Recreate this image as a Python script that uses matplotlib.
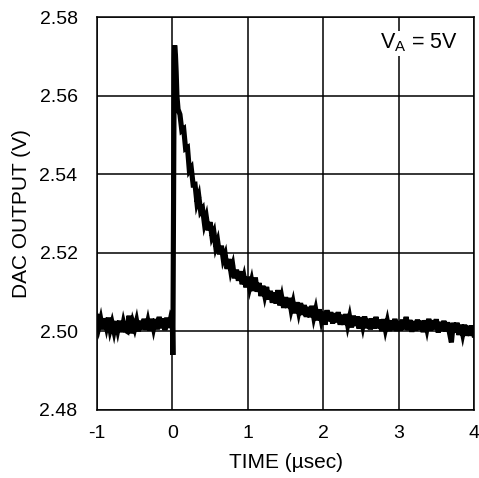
import matplotlib
matplotlib.use("Agg")
import matplotlib.pyplot as plt
import numpy as np

plt.rcParams["font.family"] = ["Liberation Sans", "DejaVu Sans"]
plt.rcParams["mathtext.default"] = "regular"

# Pre-step baseline, sampled every 25 ns from -1 us
dac_pre = [
    2.5038, 2.5011, 2.5031, 2.5005, 2.5033, 2.5011, 2.5035, 2.5004, 2.5022, 2.5000,
    2.5026, 2.5003, 2.5027, 2.4998, 2.5023, 2.5003, 2.5000, 2.5040, 2.4995, 2.5023,
    2.5007, 2.5027, 2.5000, 2.5027, 2.5005, 2.5032, 2.5004, 2.5026, 2.5002, 2.5032,
    2.5008, 2.5031, 2.5005, 2.5037, 2.5008, 2.5033, 2.5003, 2.5035, 2.5009, 2.5032,
]

# Code step edge (glitch and peak)
time_edge = [0.000, 0.006, 0.012, 0.018, 0.024, 0.030, 0.040, 0.050, 0.060, 0.075]
dac_edge = [2.5018, 2.4940, 2.5200, 2.5500, 2.5690, 2.5728, 2.5705, 2.5660, 2.5600, 2.5565]

# Settling tail, sampled every 25 ns from 0.1 us to 4 us
dac_post = [
    2.5552, 2.5511, 2.5515, 2.5465, 2.5468, 2.5409, 2.5416, 2.5373, 2.5374, 2.5328,
    2.5344, 2.5305, 2.5312, 2.5274, 2.5291, 2.5257, 2.5278, 2.5241, 2.5253, 2.5215,
    2.5230, 2.5196, 2.5218, 2.5183, 2.5196, 2.5159, 2.5184, 2.5153, 2.5169, 2.5135,
    2.5157, 2.5129, 2.5153, 2.5120, 2.5139, 2.5112, 2.5139, 2.5111, 2.5130, 2.5103,
    2.5137, 2.5101, 2.5123, 2.5090, 2.5116, 2.5091, 2.5113, 2.5081, 2.5103, 2.5073,
    2.5099, 2.5071, 2.5105, 2.5066, 2.5087, 2.5060, 2.5087, 2.5060, 2.5085, 2.5055,
    2.5074, 2.5046, 2.5074, 2.5049, 2.5072, 2.5042, 2.5067, 2.5037, 2.5062, 2.5036,
    2.5065, 2.5036, 2.5056, 2.5028, 2.5056, 2.5029, 2.5050, 2.5017, 2.5054, 2.5026,
    2.5049, 2.5020, 2.5046, 2.5023, 2.5049, 2.5017, 2.5042, 2.5017, 2.5044, 2.5016,
    2.5037, 2.5010, 2.5040, 2.5014, 2.5038, 2.5007, 2.5036, 2.5013, 2.5038, 2.5008,
    2.5032, 2.5005, 2.5033, 2.5007, 2.5037, 2.5008, 2.5030, 2.5001, 2.5031, 2.5005,
    2.5026, 2.5001, 2.5028, 2.5003, 2.5032, 2.5001, 2.5026, 2.5002, 2.5030, 2.5005,
    2.5037, 2.5003, 2.5029, 2.4999, 2.5026, 2.5002, 2.5030, 2.5004, 2.5027, 2.4998,
    2.5028, 2.5006, 2.5032, 2.5002, 2.5028, 2.5005, 2.5031, 2.4997, 2.5024, 2.5001,
    2.5027, 2.5000, 2.5023, 2.4996, 2.4972, 2.5022, 2.4997, 2.5022, 2.4991, 2.5017,
    2.4993, 2.5017, 2.4989, 2.5014, 2.4989, 2.5015, 2.4991,
]

time_pre = np.linspace(-1.0, -0.025, len(dac_pre))
time_post = np.linspace(0.1, 4.0, len(dac_post))

time = np.concatenate([time_pre, time_edge, time_post])
dac = np.concatenate([dac_pre, dac_edge, dac_post])

x_ticks = [-1, 0, 1, 2, 3, 4]
y_ticks = [2.48, 2.50, 2.52, 2.54, 2.56, 2.58]

fig = plt.figure(figsize=(4.79, 4.78), dpi=100)
ax = fig.add_axes([0.2025, 0.1423, 0.7871, 0.8221])

ax.plot(time, dac, color="black", linewidth=3.7, solid_joinstyle="miter")

ax.set_xlim(-1, 4)
ax.set_ylim(2.48, 2.58)
ax.set_xticks(x_ticks)
ax.set_yticks(y_ticks)
ax.set_xticklabels([str(t) for t in x_ticks])
ax.set_yticklabels([f"{v:.2f}" for v in y_ticks])
ax.tick_params(length=0, labelsize=14)
ax.tick_params(axis="y", pad=14)
ax.tick_params(axis="x", pad=11)
ax.grid(True, color="black", linewidth=1.1)
for s in ax.spines.values():
    s.set_linewidth(1.1)

ax.set_xlabel("TIME (µsec)", fontsize=15, labelpad=8)
ax.set_ylabel("DAC OUTPUT (V)", fontsize=15, labelpad=6)

ax.text(3.78, 2.5719, "V$_A$ = 5V", fontsize=15.5, ha="right", va="baseline",
        bbox=dict(facecolor="white", edgecolor="none", pad=1))

fig.savefig("out.png", dpi=100)
